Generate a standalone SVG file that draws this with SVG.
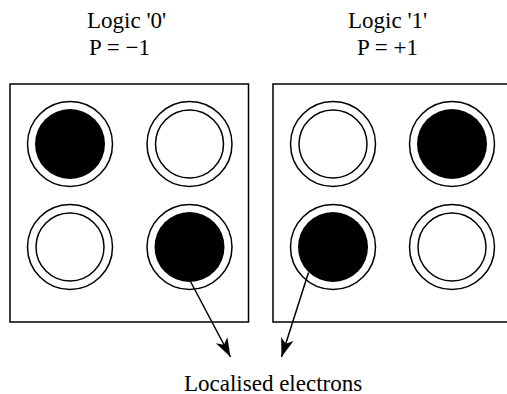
<svg xmlns="http://www.w3.org/2000/svg" width="507" height="394" viewBox="0 0 507 394">
<defs>
  <marker id="ah" markerUnits="userSpaceOnUse" markerWidth="24" markerHeight="16" viewBox="-20 -8 22 16" refX="0" refY="0" orient="auto">
    <path d="M0,0 L-19,-6.5 L-14,0 L-19,6.5 Z" fill="#000"/>
  </marker>
  <g id="ring"><circle r="42.5" fill="#fff" stroke="#000" stroke-width="1.5"/></g>
  <g id="hole"><use href="#ring"/><circle r="34" fill="#fff" stroke="#000" stroke-width="1.5"/></g>
  <g id="dot"><use href="#ring"/><circle r="35" fill="#000"/></g>
</defs>
<rect width="507" height="394" fill="#fff"/>
<g id="label0">
  <text x="87" y="27.5" font-size="23" font-family="'Liberation Serif'">Logic '0'</text>
  <text x="89" y="54.5" font-size="23" font-family="'Liberation Serif'">P = &#8722;1</text>
</g>
<g id="label1">
  <text x="348" y="27.5" font-size="23" font-family="'Liberation Serif'">Logic '1'</text>
  <text x="357" y="54.5" font-size="23" font-family="'Liberation Serif'">P = +1</text>
</g>
<g id="cell0">
  <rect x="10" y="84" width="238.5" height="238" fill="#fff" stroke="#000" stroke-width="1.5"/>
  <use href="#dot" x="70" y="144"/>
  <use href="#hole" x="189.5" y="144"/>
  <use href="#hole" x="70" y="247"/>
  <use href="#dot" x="189.5" y="247"/>
</g>
<g id="cell1">
  <rect x="273" y="84" width="240" height="238" fill="#fff" stroke="#000" stroke-width="1.5"/>
  <use href="#hole" x="333" y="144"/>
  <use href="#dot" x="452" y="144"/>
  <use href="#dot" x="333" y="247"/>
  <use href="#hole" x="452" y="247"/>
</g>
<g id="connectors" stroke="#000" stroke-width="1.5" fill="none">
  <line x1="190.5" y1="281.5" x2="230.5" y2="357" marker-end="url(#ah)"/>
  <line x1="308.5" y1="272.5" x2="281.5" y2="357" marker-end="url(#ah)"/>
</g>
<g id="caption">
  <text x="184" y="390.5" font-size="23" font-family="'Liberation Serif'">Localised electrons</text>
</g>
</svg>
